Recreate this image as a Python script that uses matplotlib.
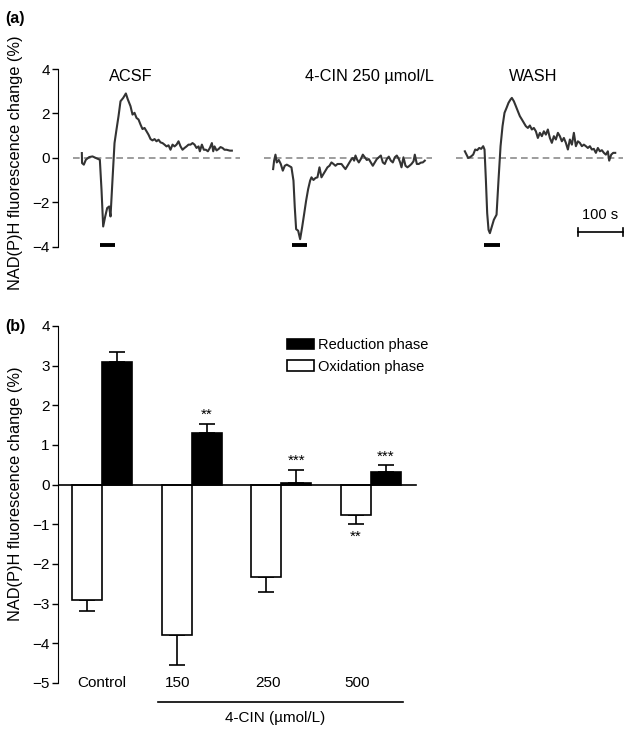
import matplotlib
matplotlib.use("Agg")
import matplotlib.pyplot as plt
import numpy as np
from matplotlib.patches import Patch

plt.rcParams["font.family"] = ["Liberation Sans", "DejaVu Sans"]
plt.rcParams["font.size"] = 11

# ---- panel (a): example traces (time in s from trace start, change in %) ----
acsf_t = [0, 0.5, 4.4, 8.9, 16.3, 23.7, 31.1, 40.0, 43.7, 47.4, 51.9, 56.3, 60.7, 63.7,
          68.1, 72.6, 77.0, 81.5, 85.9, 91.9, 97.8, 102.2, 108.1, 112.6, 117.0, 121.5,
          125.9, 130.4, 134.8, 139.3, 143.7, 148.1, 152.6, 157.0, 161.5, 165.9, 170.4,
          174.8, 179.3, 183.7, 188.1, 192.6, 197.0, 201.5, 205.9, 210.4, 214.8, 219.3,
          223.7, 228.1, 232.6, 237.0, 241.5, 245.9, 250.4, 254.8, 259.3, 262.2, 266.7,
          271.1, 275.6, 280.0, 284.4, 288.9, 291.9, 294.8, 299.3, 303.7, 308.1, 312.6,
          317.0, 321.5, 328.9, 333.3]
acsf_v = [0.22, -0.23, -0.30, -0.08, 0.04, 0.07, 0.0, -0.08, -1.43, -3.08, -2.63, -2.25,
          -2.18, -2.63, -0.98, 0.67, 1.28, 1.88, 2.55, 2.70, 2.90, 2.63, 2.33, 1.95, 2.03,
          1.80, 1.73, 1.50, 1.30, 1.35, 1.20, 1.05, 0.85, 0.79, 0.85, 0.75, 0.82, 0.70,
          0.67, 0.60, 0.52, 0.57, 0.37, 0.60, 0.52, 0.60, 0.75, 0.52, 0.37, 0.45, 0.52,
          0.60, 0.60, 0.67, 0.60, 0.45, 0.52, 0.30, 0.60, 0.37, 0.37, 0.30, 0.45, 0.67,
          0.30, 0.52, 0.34, 0.40, 0.49, 0.45, 0.37, 0.37, 0.33, 0.33]

cin_t = [0, 2.2, 5.2, 8.1, 12.6, 17.0, 21.5, 25.9, 30.4, 34.8, 40.7, 45.2, 48.1, 51.1,
         55.6, 60.0, 64.4, 68.9, 73.3, 77.8, 82.2, 85.2, 89.6, 94.1, 98.5, 103.0, 107.4,
         111.8, 116.3, 120.7, 125.2, 129.6, 134.1, 138.5, 143.0, 147.4, 151.9, 156.3,
         160.7, 165.2, 169.6, 174.1, 177.0, 180.0, 183.0, 185.9, 190.4, 194.8, 199.3,
         203.7, 208.1, 212.6, 217.0, 221.5, 225.9, 230.4, 234.8, 239.3, 243.7, 248.1,
         252.6, 257.0, 261.5, 265.9, 270.4, 274.8, 279.3, 282.2, 285.2, 289.6, 294.1,
         298.5, 303.0, 307.4, 311.9, 314.8, 319.3, 323.7, 328.1, 332.6, 337.0]
cin_v = [-0.50, -0.12, 0.15, -0.20, -0.09, -0.27, -0.57, -0.35, -0.30, -0.35, -0.42,
         -1.02, -2.22, -3.20, -3.27, -3.65, -3.12, -2.52, -1.92, -1.40, -1.02, -0.87,
         -0.99, -0.90, -0.87, -0.42, -0.87, -0.72, -0.57, -0.42, -0.35, -0.20, -0.27,
         -0.35, -0.27, -0.27, -0.27, -0.39, -0.50, -0.35, -0.20, -0.05, 0.0, -0.12, 0.11,
         -0.05, -0.20, -0.05, 0.15, 0.03, -0.09, -0.05, -0.20, -0.35, -0.20, -0.05, 0.03,
         0.11, -0.20, -0.27, -0.05, 0.06, -0.12, -0.20, 0.03, 0.11, -0.05, -0.20, -0.42,
         0.03, -0.35, -0.42, -0.35, -0.27, -0.15, 0.15, -0.27, -0.27, -0.21, -0.20, -0.12]

wash_t = [0, 3.7, 7.4, 12.6, 18.5, 23.0, 27.4, 31.9, 36.3, 40.7, 43.7, 46.7, 49.6, 52.6,
          55.6, 60.0, 64.4, 70.4, 74.8, 79.3, 83.7, 88.1, 92.6, 97.0, 101.5, 104.4, 108.9,
          113.3, 117.8, 122.2, 126.7, 131.1, 135.5, 140.0, 144.4, 148.9, 153.3, 157.8,
          162.2, 166.7, 171.1, 175.5, 180.0, 184.4, 188.9, 193.3, 197.8, 202.2, 206.7,
          211.1, 215.5, 220.0, 224.4, 228.9, 233.3, 237.8, 242.2, 246.7, 251.1, 255.5,
          260.0, 264.4, 268.9, 273.3, 277.8, 282.2, 286.6, 291.1, 295.5, 300.0, 304.4,
          308.9, 313.3, 317.7, 320.7, 325.2, 329.6, 334.1]
wash_v = [0.30, 0.15, 0.0, 0.05, 0.15, 0.38, 0.35, 0.45, 0.41, 0.53, 0.38, -0.98, -2.48,
          -3.23, -3.38, -3.08, -2.78, -2.55, -0.98, 0.53, 1.43, 2.03, 2.25, 2.48, 2.63,
          2.70, 2.55, 2.33, 2.10, 1.88, 1.73, 1.58, 1.43, 1.35, 1.46, 1.28, 1.35, 1.20,
          0.90, 1.13, 0.98, 1.20, 1.05, 1.28, 0.90, 0.68, 0.98, 0.83, 1.13, 0.98, 0.75,
          0.90, 0.68, 0.38, 0.83, 0.60, 1.13, 0.53, 0.75, 0.68, 0.53, 0.60, 0.53, 0.45,
          0.53, 0.38, 0.41, 0.23, 0.45, 0.30, 0.35, 0.23, 0.15, 0.30, -0.12, 0.15, 0.23,
          0.23]

trace_titles = ["ACSF", "4-CIN 250 \u00b5mol/L", "WASH"]
trace_offsets = [0, 425, 851]          # s, where each trace sits on the shared axis
title_pos = [109, 213, 151]            # s, title centre relative to each trace
stim_windows = [(40, 74), (42, 76), (42, 78)]

# ---- panel (b): mean responses ----
groups = ["Control", "150", "250", "500"]
oxidation = [-2.9, -3.8, -2.32, -0.76]
oxidation_err = [0.28, 0.74, 0.39, 0.24]
reduction = [3.1, 1.3, 0.03, 0.32]
reduction_err = [0.25, 0.22, 0.34, 0.17]

fig = plt.figure(figsize=(6.31, 7.29), dpi=100)

# ---------------- (a) ----------------
ax1 = fig.add_axes([0.0919, 0.6582, 0.908, 0.2502])
for t, v, off, title, tpos, stim in zip([acsf_t, cin_t, wash_t], [acsf_v, cin_v, wash_v],
                                        trace_offsets, trace_titles, title_pos,
                                        stim_windows):
    t = np.asarray(t) + off
    ax1.plot([off - 20, off + 352], [0, 0], ls=(0, (4, 2.5)), color="#8c8c8c", lw=1.2)
    ax1.plot(t, v, color="#333333", lw=1.5)
    ax1.plot([off + stim[0], off + stim[1]], [-3.92, -3.92], color="black", lw=2.8,
             solid_capstyle="butt")
    ax1.text(off + tpos, 3.65, title, ha="center", va="center", fontsize=11.8)

# 100 s scale bar
ax1.plot([1102, 1202], [-3.33, -3.33], color="black", lw=1.2)
ax1.plot([1102, 1102], [-3.5, -3.16], color="black", lw=1.2)
ax1.plot([1202, 1202], [-3.5, -3.16], color="black", lw=1.2)
ax1.text(1152, -2.55, "100 s", ha="center", va="center", fontsize=10.5)

ax1.set_xlim(-53, 1220)
ax1.set_ylim(-4.1, 4.1)
ax1.set_yticks([-4, -2, 0, 2, 4])
ax1.set_yticklabels(["\u22124", "\u22122", "0", "2", "4"])
ax1.spines["left"].set_bounds(-4, 4)
for s in ["top", "right", "bottom"]:
    ax1.spines[s].set_visible(False)
ax1.set_xticks([])
ax1.tick_params(axis="y", direction="out", length=4, width=1, labelsize=11, pad=2)

# ---------------- (b) ----------------
ax2 = fig.add_axes([0.0919, 0.0604, 0.581, 0.498])
x = np.arange(len(groups))
w = 0.335
zeros = np.zeros(len(groups))
ax2.bar(x - w / 2, oxidation, w, color="white", edgecolor="black", lw=1.2, zorder=2)
ax2.bar(x + w / 2, reduction, w, color="black", edgecolor="black", lw=1.2, zorder=2)
ax2.errorbar(x - w / 2, oxidation, yerr=[oxidation_err, zeros], fmt="none",
             ecolor="black", elinewidth=1.2, capsize=5.5, capthick=1.2, zorder=1)
ax2.errorbar(x + w / 2, reduction, yerr=[zeros, reduction_err], fmt="none",
             ecolor="black", elinewidth=1.2, capsize=5.5, capthick=1.2, zorder=1)
ax2.plot([-0.49, 3.5], [0, 0], color="black", lw=1.2, zorder=3)

# significance marks
ax2.text(1 + w / 2, 1.77, "**", ha="center", va="center", fontsize=11)
ax2.text(2 + w / 2, 0.6, "***", ha="center", va="center", fontsize=11)
ax2.text(3 + w / 2, 0.71, "***", ha="center", va="center", fontsize=11)
ax2.text(3 - w / 2, -1.32, "**", ha="center", va="center", fontsize=11)

# group labels
for xi, g in zip([0.0, 0.85, 1.85, 2.85], groups):
    ax2.text(xi, -5.0, g, ha="center", va="center", fontsize=11)
ax2.plot([0.625, 3.36], [-5.48, -5.48], color="black", lw=1.2, clip_on=False)
ax2.text(1.93, -5.87, "4-CIN (\u00b5mol/L)", ha="center", va="center", fontsize=11)

ax2.set_xlim(-0.49, 3.6)
ax2.set_ylim(-5.05, 4.1)
ax2.set_yticks(np.arange(-5, 5))
ax2.set_yticklabels([str(v).replace("-", "\u2212") for v in range(-5, 5)])
ax2.spines["left"].set_bounds(-5, 4)
for s in ["top", "right", "bottom"]:
    ax2.spines[s].set_visible(False)
ax2.set_xticks([])
ax2.tick_params(axis="y", direction="out", length=4, width=1, labelsize=11, pad=2)

handles = [Patch(facecolor="black", edgecolor="black", lw=1.2),
           Patch(facecolor="white", edgecolor="black", lw=1.2)]
ax2.legend(handles, ["Reduction phase", "Oxidation phase"], loc="upper left",
           bbox_to_anchor=(0.61, 0.971), frameon=False, fontsize=10.5,
           handlelength=1.85, handleheight=0.7, handletextpad=0.25, labelspacing=0.5,
           borderaxespad=0)

# y labels and panel letters
fig.text(0.024, 1 - 163 / 729, "NAD(P)H fluorescence change (%)", rotation=90,
         ha="center", va="center", fontsize=11.8)
fig.text(0.024, 1 - 494 / 729, "NAD(P)H fluorescence change (%)", rotation=90,
         ha="center", va="center", fontsize=11.8)
fig.text(0.008, 1 - 19 / 729, "(a)", fontweight="bold", va="center", fontsize=11.5)
fig.text(0.008, 1 - 326 / 729, "(b)", fontweight="bold", va="center", fontsize=11.5)

fig.savefig("out.png", dpi=100)
